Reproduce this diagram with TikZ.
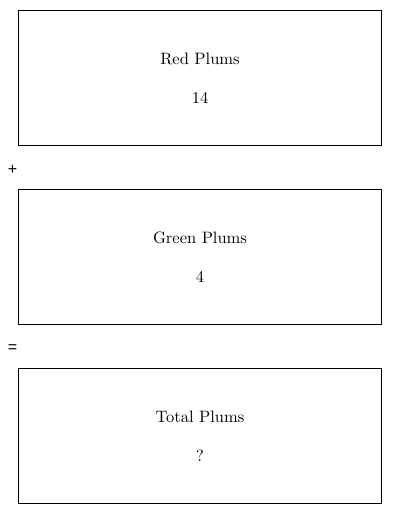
\documentclass[tikz,border=0pt]{standalone}
\usepackage{fontspec}
\newfontfamily\lmten{lmroman10-regular.otf}
\newfontfamily\opfont{Liberation Sans}
\begin{document}
\begin{tikzpicture}[x=1pt,y=-1pt,
  box/.style={draw=black,line width=0.9pt},
  lbl/.style={font=\lmten\fontsize{16.5}{19}\selectfont,inner sep=0pt,anchor=center},
  op/.style={font=\opfont\fontsize{16}{18}\selectfont,inner sep=0pt,anchor=center}]
\useasboundingbox (0,0) rectangle (400,514);
\node[box,minimum width=363pt,minimum height=135pt,inner sep=0pt] (b1) at (200,78) {};
\node[box,minimum width=363pt,minimum height=135pt,inner sep=0pt] (b2) at (200,257) {};
\node[box,minimum width=363pt,minimum height=135pt,inner sep=0pt] (b3) at (200,436) {};
\node[lbl] (t1) at (200,59) {Red Plums};
\node[lbl] (n1) at (200,98) {14};
\node[lbl] (t2) at (200,238) {Green Plums};
\node[lbl] (n2) at (200,277) {4};
\node[lbl] (t3) at (200,417) {Total Plums};
\node[lbl] (n3) at (200,456) {?};
\node[op] (plus) at (12.5,170) {+};
\node[op] (eq) at (12.5,349) {=};
\end{tikzpicture}
\end{document}
